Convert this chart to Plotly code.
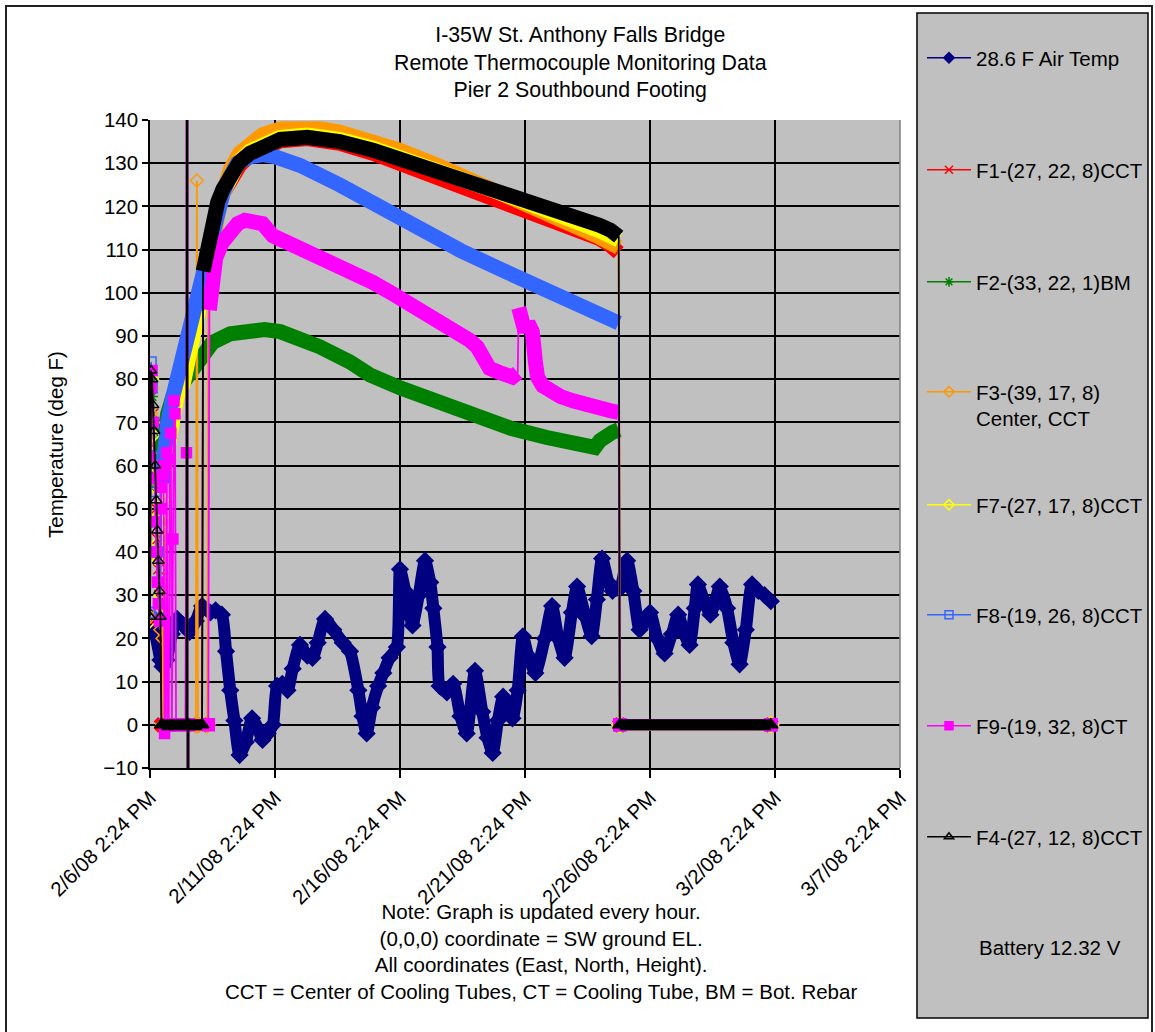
import pandas as pd
import plotly.graph_objects as go

# ---------------- data ----------------
# time axis: hours elapsed since 2/6/08 2:24 PM (hourly logger readings)
START = pd.Timestamp("2008-02-06 14:24")
AXIS_END = pd.Timestamp("2008-03-07 14:24")
TICK_DAYS = 5

# Air temperature (deg F)
AIR_H = [0, 5, 10, 12, 16, 21, 26, 32, 38, 44, 50, 58, 63, 69, 73, 77, 81, 86, 92, 98,
         104, 108, 113, 118, 122, 127, 132, 137, 144, 151, 156, 161, 168, 176, 185, 192, 200, 204, 208, 213,
         219, 224, 230, 237, 240, 245, 250, 252, 258, 264, 269, 272, 276, 278, 285, 291, 298, 304, 312, 319,
         324, 329, 334, 339, 344, 348, 353, 358, 363, 370, 379, 386, 392, 398, 405, 410, 418, 424, 429, 434,
         440, 444, 451, 458, 464, 470, 475, 480, 487, 494, 501, 507, 513, 518, 523, 526, 533, 538, 543, 547,
         554, 560, 566, 572, 578, 584, 590, 596]
AIR_T = [25, 21, 15, 13.5, 15, 21, 24.5, 23, 21.5, 24, 27.5, 26, 26.5, 25.5, 17, 8, 1, -7, -4, 1.5,
         -1, -3.5, -2, 0, 9, 9.5, 8, 13, 18.5, 16, 15.5, 19, 24.5, 22, 19, 17, 8, 2, -2, 4,
         9, 12, 15.5, 18, 36, 31, 25, 23, 30, 38, 33, 27, 18, 9, 7.5, 9.5, 2, -2, 12.5, 3,
         -3, -6.5, 1, 6.5, 3, 1.5, 8, 20.5, 16, 12, 20, 27.5, 20, 15.5, 26, 32, 25, 20.5, 29, 38.5,
         33, 31, 31.5, 38, 31, 22, 24, 26, 20, 16.5, 21, 25.5, 21, 18.5, 27, 32.5, 28, 25.5, 29, 32,
         27, 19, 14, 22, 32.5, 31, 30, 28.6]

# F1 - (27, 22, 8) CCT
F1_EARLY_H = [0, 1, 2, 3, 4, 5, 6, 7, 8, 9, 10, 11, 50]
F1_EARLY_T = [24, 79, 78, 72, 65, 57, 50, 43, 36, 30, 25, 0, 0]
F1_H = [51, 56, 60, 65, 70, 77, 86, 96, 108, 125, 151, 182, 214, 240, 269, 298, 326, 355, 384, 413, 432, 442, 450]
F1_T = [104, 111, 116, 120, 123, 126.5, 129.5, 131.8, 133.6, 135.2, 135.7, 134.6, 132.3, 130, 127.3, 124.6,
        122, 119.5, 117.2, 114.8, 112.5, 111, 109.3]

# F2 - (33, 22, 1) BM
F2_EARLY_H = [0, 1, 2, 3, 4, 5, 6, 7]
F2_EARLY_T = [55, 63, 76, 80, 68, 60, 57, 62]
F2_H = [8, 12, 17, 22, 29, 36, 43, 53, 60, 77, 96, 110, 125, 144, 163, 192, 211, 240, 269, 298,
        317, 348, 381, 406, 422, 427, 432, 437, 444, 450]
F2_T = [58, 66, 72, 76, 78.5, 80.5, 83.5, 86.5, 88.5, 90.5, 91.4, 91.5, 91, 89.5, 87.5, 84, 81, 78, 75.5, 73,
        71, 68.5, 66.5, 65.2, 64.3, 64.2, 65.8, 67, 67.7, 68.3]

# F3 - (39, 17, 8) Center, CCT
F3_EARLY_H = [0, 1, 2, 3, 4, 5, 6, 7, 8, 9, 10, 11, 12, 13, 14, 15, 44, 45, 46, 55]
F3_EARLY_T = [25, 72, 78, 70, 62, 55, 48, 40, 33, 26, 22, 30, 20, 0, 48, 0, 0, 126, 0, 0]
F3_H = [56, 60, 65, 70, 77, 86, 96, 108, 125, 144, 163, 182, 214, 240, 278, 317, 348, 384, 413, 432, 450]
F3_T = [104, 112, 118, 123, 128.5, 132.3, 134.7, 136.6, 137.9, 138.3, 138, 137.2, 135.3, 133, 129.3, 125.3,
        121.8, 118, 114.8, 112.8, 110.5]

# F7 - (27, 17, 8) CCT
F7_EARLY_H = [0, 1, 2, 3, 4, 5, 6, 7, 8, 9, 10, 11, 12, 13]
F7_EARLY_T = [24, 78, 80, 67, 60, 55, 48, 42, 38, 33, 30, 45, 52, 58]
F7_H = [14, 21, 26, 32, 36, 41, 46, 51, 56, 60, 65, 70, 77, 86, 96, 108, 125, 151, 182, 214,
        240, 269, 298, 326, 355, 384, 413, 432, 450]
F7_T = [60, 72, 76, 79, 83, 89, 95, 101, 108, 114, 119.5, 123, 127, 130.5, 132.8, 134.5, 136, 136.5, 135.5, 133.5,
        131.5, 129, 126.5, 124, 121.5, 119, 116.5, 114.3, 112.2]

# F8 - (19, 26, 8) CCT
F8_EARLY_H = [0, 1, 2, 3, 4, 5, 6, 7, 8, 9, 10]
F8_EARLY_T = [26, 84, 78, 70, 62, 54, 47, 40, 33, 27, 24]
F8_H = [11, 12, 17, 22, 27, 34, 40, 48, 56, 62, 70, 77, 84, 96, 108, 120, 134, 144, 182, 221,
        259, 298, 336, 374, 413, 432, 450]
F8_T = [56, 61, 70, 76, 81, 88, 96, 103, 109.5, 116, 123, 127, 130, 131.5, 132, 131.5, 130.3, 129.5, 125, 119.7,
        114.5, 109.8, 105.5, 101.5, 97.5, 95.3, 93]

# F9 - (19, 32, 8) CT
F9_EARLY_H = [0, 1, 2, 3, 4, 5, 6, 7, 8, 9, 10, 11, 12, 13, 14, 15, 16, 17, 18, 19,
              20, 21, 22, 23, 24, 25, 34, 35, 36, 36, 37, 56]
F9_EARLY_T = [62, 78, 82, 70, 57, 47, 40, 33, 28, 24, 50, 55, 58, 60, -2, 0, 63, 0, 0, 61.5,
              67.5, 0, 43, 75, 72, 0, 0, 63, 700, -700, 0, 0]
F9_H = [57, 60, 63, 69, 75, 84, 91, 101, 108, 118, 134, 151, 166, 182, 199, 214, 230, 247, 259, 269,
        278, 288, 298, 307, 314, 320, 326, 336, 348, 353, 354, 357, 360, 363, 367, 370, 372, 377, 384, 394,
        406, 418, 429, 442, 450]
F9_T = [96, 103, 108, 111.5, 113.5, 116, 116.8, 116.8, 116, 113.2, 111.5, 110, 108.2, 106.2, 104.2, 102.4, 100.2,
        97.7, 96, 94.5, 93.2, 92, 91, 89, 87.5, 85, 82.5, 81.5, 80.5, 81.5, 96.5, 92, 91, 93, 91, 84, 80.5,
        78.5, 77.2, 76, 75, 74, 73.2, 72.7, 72.3]

# F4 - (27, 12, 8) CCT
F4_EARLY_H = [0, 1, 2, 3, 4, 5, 6, 7, 8, 9, 10, 11, 35, 36, 36, 37, 50]
F4_EARLY_T = [25, 82, 80, 74, 68, 60, 52, 45, 38, 31, 25, 0, 0, 700, -700, 0, 0]
F4_H = F1_H
F4_T = [105, 112, 117, 121, 124, 127.5, 130.3, 132.3, 134, 135.5, 136, 135, 133, 131, 128.5, 126, 123.6,
        121.5, 119.4, 117.3, 115.6, 114.5, 113]

# logger reads 0 on all thermocouples after they were disconnected
OFF_H = [451, 596]
OFF_T = [0, 0]

NAMES = ["28.6 F Air Temp", "F1-(27, 22, 8)CCT", "F2-(33, 22, 1)BM", "F3-(39, 17, 8)<br>Center, CCT",
         "F7-(27, 17, 8)CCT", "F8-(19, 26, 8)CCT", "F9-(19, 32, 8)CT", "F4-(27, 12, 8)CCT"]
BATTERY = "Battery 12.32 V"

# ---------------- styling ----------------
FONT = "Liberation Sans, Arial, sans-serif"
FS = 20.5
FS_TITLE = 21.3
COLORS = ["#000080", "#FF0000", "#008000", "#FF9900", "#FFFF00", "#3366FF", "#FF00FF", "#000000"]
SYM_OPEN = ["diamond", "x-thin-open", "asterisk-open", "diamond-open", "diamond-open",
            "square-open", "square", "triangle-up-open"]
SYM_FILL = ["diamond", "x", "asterisk-open", "diamond", "diamond", "square", "square", "triangle-up"]

# plot-area geometry in pixels (for paper-coordinate conversions)
W, H = 1155, 1032
PL, PR, PT, PB = 150, 900, 120, 768


def px_x(px):
    return (px - PL) / (PR - PL)


def px_y(py):
    return (PB - py) / (PB - PT)


def to_time(hours):
    return [None if h is None else START + pd.Timedelta(hours=h) for h in hours]


def band(h, t, jump=12):
    xs, ys = [], []
    for i, (a, b) in enumerate(zip(h, t)):
        if i > 0 and abs(b - t[i - 1]) > jump:
            xs.append(None)
            ys.append(None)
        xs.append(a)
        ys.append(b)
    return xs, ys


fig = go.Figure()

# Air temperature band
fig.add_trace(go.Scatter(
    x=to_time(AIR_H), y=AIR_T, mode="lines+markers",
    line=dict(color=COLORS[0], width=12, shape="spline", smoothing=0.6),
    marker=dict(symbol="diamond", size=14, color=COLORS[0]),
    showlegend=False, hoverinfo="skip"))

SERIES = [
    (1, F1_EARLY_H, F1_EARLY_T, F1_H, F1_T),
    (2, F2_EARLY_H, F2_EARLY_T, F2_H, F2_T),
    (3, F3_EARLY_H, F3_EARLY_T, F3_H, F3_T),
    (4, F7_EARLY_H, F7_EARLY_T, F7_H, F7_T),
    (5, F8_EARLY_H, F8_EARLY_T, F8_H, F8_T),
    (6, F9_EARLY_H, F9_EARLY_T, F9_H, F9_T),
    (7, F4_EARLY_H, F4_EARLY_T, F4_H, F4_T),
]

for i, eh, et, mh, mt in SERIES:
    c = COLORS[i]
    # thin connecting line of every reading
    fig.add_trace(go.Scatter(
        x=to_time(eh + mh + OFF_H), y=et + mt + OFF_T, mode="lines",
        line=dict(color=c, width=1.8), showlegend=False, hoverinfo="skip"))
    # dense hourly markers -> thick band
    bx, by = band(mh, mt)
    fig.add_trace(go.Scatter(
        x=to_time(bx), y=by, mode="lines",
        line=dict(color=c, width=15), showlegend=False, hoverinfo="skip"))
    # zero readings
    zh = eh + [None] + OFF_H
    zt = [0 if v == 0 else None for v in et] + [None] + OFF_T
    fig.add_trace(go.Scatter(
        x=to_time(zh), y=zt, mode="lines+markers",
        line=dict(color=c, width=11),
        marker=dict(symbol=SYM_FILL[i], size=12, color=c, line=dict(color=c, width=1.5)),
        showlegend=False, hoverinfo="skip"))
    # scattered start-up readings
    fig.add_trace(go.Scatter(
        x=to_time(eh), y=et, mode="markers",
        marker=dict(symbol=SYM_OPEN[i], size=10, color=c, line=dict(color=c, width=1.5)),
        showlegend=False, hoverinfo="skip"))

# legend entries (one legend per entry for Excel-like spacing)
LEG_Y = [58, 170, 282, 405.5, 505, 615, 726, 837]
legend_layout = {}
for i, name in enumerate(NAMES):
    key = "legend" if i == 0 else f"legend{i + 1}"
    c = COLORS[i]
    fig.add_trace(go.Scatter(
        x=[None], y=[None], mode="lines+markers", name=name, legend=key,
        line=dict(color=c, width=1.5),
        marker=dict(symbol=SYM_OPEN[i], size=8, color=c, line=dict(color=c, width=1.5))))
    legend_layout[key] = dict(
        x=px_x(922), xanchor="left", y=px_y(LEG_Y[i]), yanchor="middle",
        bgcolor="rgba(0,0,0,0)", borderwidth=0, itemwidth=44,
        valign="top", font=dict(family=FONT, size=FS, color="black"))

fig.update_layout(
    width=W, height=H, autosize=False,
    margin=dict(l=PL, r=W - PR, t=PT, b=H - PB, pad=0, autoexpand=False),
    paper_bgcolor="white", plot_bgcolor="#C0C0C0",
    font=dict(family=FONT, size=FS, color="black"),
    showlegend=True,
    **legend_layout,
)

fig.update_xaxes(
    type="date", range=[START, AXIS_END], tick0=START, dtick=TICK_DAYS * 86400000,
    tickformat="%-m/%-d/%y %-I:%M %p", tickangle=-45,
    showgrid=True, gridcolor="black", gridwidth=1.5, zeroline=False,
    showline=True, linecolor="black", linewidth=1.5,
    ticks="outside", ticklen=8, tickwidth=1.5, tickcolor="black",
    tickfont=dict(family=FONT, size=FS, color="black"))
fig.update_yaxes(
    range=[-10, 140], tick0=0, dtick=10,
    showgrid=True, gridcolor="black", gridwidth=1.5, zeroline=False,
    showline=True, linecolor="black", linewidth=1.5,
    ticks="outside", ticklen=6, tickwidth=1.5, tickcolor="black",
    tickfont=dict(family=FONT, size=FS, color="black"))

fig.add_shape(type="rect", xref="paper", yref="paper",
              x0=px_x(6), x1=px_x(1152), y0=px_y(1045), y1=px_y(6),
              line=dict(color="#222222", width=2), fillcolor="rgba(0,0,0,0)", layer="below")
fig.add_shape(type="rect", xref="paper", yref="paper",
              x0=px_x(917), x1=px_x(1148), y0=px_y(1018), y1=px_y(13),
              line=dict(color="black", width=1.5), fillcolor="#C0C0C0", layer="below")
fig.add_shape(type="line", xref="paper", yref="paper", x0=1, x1=1, y0=0, y1=1,
              line=dict(color="#808080", width=1.5))

fig.add_annotation(
    text="I-35W St. Anthony Falls Bridge<br>Remote Thermocouple Monitoring Data<br>Pier 2 Southbound Footing",
    xref="paper", yref="paper", x=px_x(580), y=px_y(63), xanchor="center", yanchor="middle",
    showarrow=False, font=dict(family=FONT, size=FS_TITLE, color="black"))
fig.add_annotation(
    text="Temperature (deg F)", textangle=-90,
    xref="paper", yref="paper", x=px_x(55), y=0.5, xanchor="center", yanchor="middle",
    showarrow=False, font=dict(family=FONT, size=FS, color="black"))
fig.add_annotation(
    text=("Note: Graph is updated every hour.<br>(0,0,0) coordinate = SW ground EL.<br>"
          "All coordinates (East, North, Height).<br>"
          "CCT = Center of Cooling Tubes, CT = Cooling Tube, BM = Bot. Rebar"),
    xref="paper", yref="paper", x=px_x(541), y=px_y(951), xanchor="center", yanchor="middle",
    showarrow=False, font=dict(family=FONT, size=FS, color="black"))
fig.add_annotation(
    text=BATTERY, xref="paper", yref="paper", x=px_x(977), y=px_y(947),
    xanchor="left", yanchor="middle", showarrow=False,
    font=dict(family=FONT, size=FS, color="black"))

fig.write_html("out.html", config={"displayModeBar": False})
